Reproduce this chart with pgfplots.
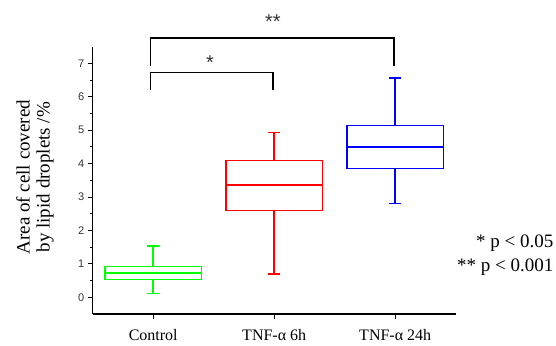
\documentclass[border=0pt]{standalone}
\usepackage{pgfplots}
\pgfplotsset{compat=1.18}
\usepgfplotslibrary{statistics}
\usepackage{fontspec}
\setmainfont{Liberation Serif}
\newfontfamily\arialfont{Liberation Sans}
\definecolor{cgreen}{RGB}{0,255,0}
\definecolor{cred}{RGB}{255,0,0}
\definecolor{cblue}{RGB}{0,0,255}
\begin{document}
\begin{tikzpicture}
\begin{axis}[
  scale only axis, width=363pt, height=267.3pt,
  xmin=0.5, xmax=3.5, ymin=-0.5, ymax=7.5,
  axis x line*=bottom, axis y line*=left,
  axis line style={line width=1.5pt, black},
  xtick={1,2,3}, xticklabels={Control, TNF-α 6h, TNF-α 24h},
  ytick={0,1,2,3,4,5,6,7}, minor y tick num=1,
  tick align=outside, major tick length=5pt, minor tick length=3pt,
  every tick/.style={line width=1pt, black},
  yticklabel style={font=\arialfont\fontsize{11}{12}\selectfont, text=black!80, /pgf/number format/assume math mode=true},
  xticklabel style={font=\fontsize{16}{18}\selectfont, anchor=base, yshift=-22pt},
  ylabel={Area of cell covered\\by lipid droplets /\%},
  ylabel style={align=center, font=\fontsize{19}{20}\selectfont, at={(axis description cs:-0.159,0.512)}, anchor=center},
  clip=false,
  boxplot/draw direction=y,
  boxplot/box extend=0.8,
  boxplot/whisker extend=0.1,
]
\addplot[cgreen, line width=1.5pt, solid, boxplot prepared={draw position=1, lower whisker=0.11, lower quartile=0.53, median=0.73, upper quartile=0.92, upper whisker=1.54}] coordinates {};
\addplot[cred, line width=1.5pt, solid, boxplot prepared={draw position=2, lower whisker=0.69, lower quartile=2.60, median=3.36, upper quartile=4.10, upper whisker=4.93}] coordinates {};
\addplot[cblue, line width=1.5pt, solid, boxplot prepared={draw position=3, lower whisker=2.80, lower quartile=3.85, median=4.50, upper quartile=5.14, upper whisker=6.57}] coordinates {};
% significance brackets
\addplot[black, line width=1.2pt, no markers] coordinates {(0.98,6.21) (0.98,6.73) (1.99,6.73) (1.99,6.21)};
\addplot[black, line width=1.2pt, no markers] coordinates {(0.98,6.93) (0.98,7.76) (2.99,7.76) (2.99,6.93)};
\node[font=\arialfont\fontsize{20}{22}\selectfont, text=black!80] at (axis cs:1.47,7.02) {*};
\node[font=\arialfont\fontsize{20}{22}\selectfont, text=black!80] at (axis cs:1.99,8.26) {**};
\node[anchor=base east, font=\fontsize{19}{20}\selectfont, inner sep=0pt] at (axis cs:4.309,1.48) {* p < 0.05};
\node[anchor=base east, font=\fontsize{19}{20}\selectfont, inner sep=0pt] at (axis cs:4.309,0.775) {** p < 0.001};
\end{axis}
\pgfresetboundingbox
\path ([shift={(-92.7pt,-32pt)}]current axis.south west) rectangle ([shift={(100.3pt,46.7pt)}]current axis.north east);
\end{tikzpicture}
\end{document}
